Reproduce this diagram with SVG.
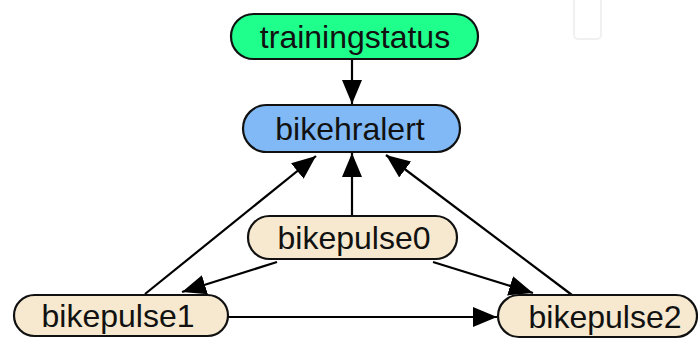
<svg xmlns="http://www.w3.org/2000/svg" width="698" height="339" viewBox="0 0 698 339">
<defs>
<marker id="ah" viewBox="0 0 24 20" refX="24" refY="10" markerWidth="24" markerHeight="20" markerUnits="userSpaceOnUse" orient="auto">
<path d="M0,0 L24,10 L0,20 Z" fill="#000"/>
</marker>
</defs>
<style>
.node{stroke:#111;stroke-width:2.2}
.lbl{font-family:"Liberation Sans",Arial,sans-serif;font-size:32px;fill:#111;text-anchor:middle;dominant-baseline:central}
.edge{stroke:#000;stroke-width:2.2;fill:none;marker-end:url(#ah)}
</style>
<rect width="698" height="339" fill="#fff"/>
<rect x="574" y="-6" width="27" height="45" rx="4" fill="none" stroke="#f0f0f0" stroke-width="2"/>
<g id="connectors">
<line class="edge" x1="352" y1="59" x2="352" y2="104"/>
<line class="edge" x1="352" y1="216" x2="352" y2="153"/>
<line class="edge" x1="145" y1="294" x2="316" y2="156"/>
<line class="edge" x1="572" y1="295" x2="386" y2="155"/>
<line class="edge" x1="277" y1="262" x2="182" y2="292"/>
<line class="edge" x1="433" y1="262" x2="533" y2="293"/>
<line class="edge" x1="228" y1="317" x2="497" y2="317"/>
</g>
<g id="trainingstatus">
<rect class="node" x="231" y="14" width="247" height="45" rx="22.5" fill="#1eff8c"/>
<text class="lbl" x="355" y="37">trainingstatus</text>
</g>
<g id="bikehralert">
<rect class="node" x="243" y="105" width="217" height="47" rx="23.5" fill="#80b9f5"/>
<text class="lbl" x="350" y="129">bikehralert</text>
</g>
<g id="bikepulse0">
<rect class="node" x="248" y="216" width="209" height="43" rx="21.5" fill="#f6e9cf"/>
<text class="lbl" x="354" y="238">bikepulse0</text>
</g>
<g id="bikepulse1">
<rect class="node" x="14" y="295" width="214" height="41" rx="20.5" fill="#f6e9cf"/>
<text class="lbl" x="118" y="316">bikepulse1</text>
</g>
<g id="bikepulse2">
<rect class="node" x="498" y="295" width="199" height="42" rx="21" fill="#f6e9cf"/>
<text class="lbl" x="605" y="317">bikepulse2</text>
</g>
</svg>
